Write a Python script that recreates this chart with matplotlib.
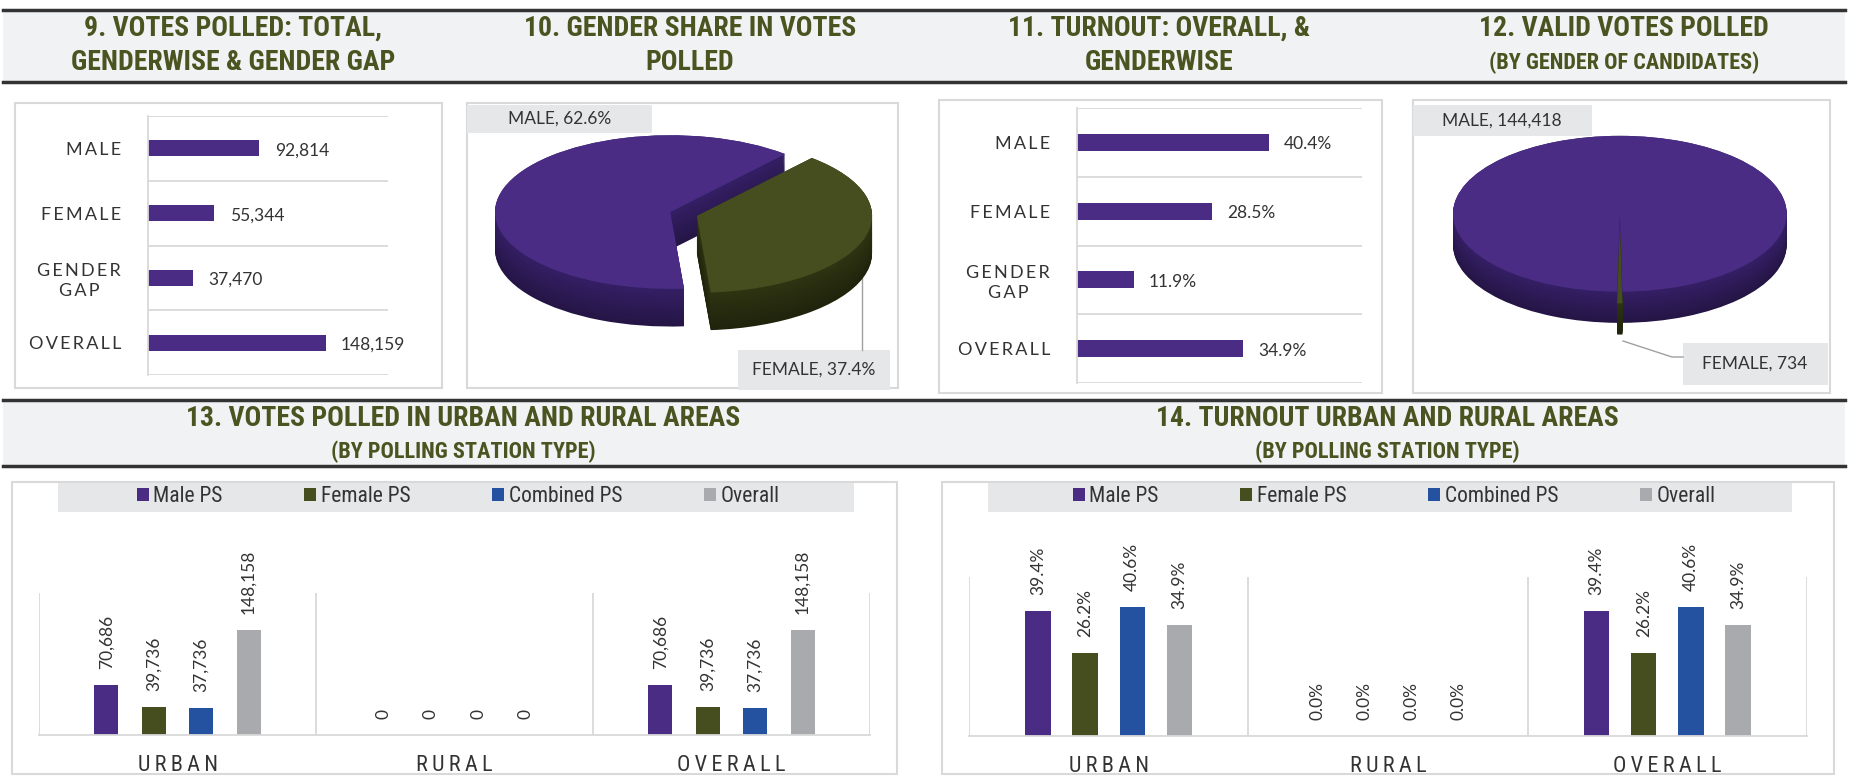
import numpy as np
import matplotlib.pyplot as plt
from matplotlib import font_manager
from matplotlib.colors import to_rgb
from matplotlib.patches import Rectangle

W, H = 1862, 776

# ---- data ----
gender_cats = ["MALE", "FEMALE", "GENDER\nGAP", "OVERALL"]
votes_polled = [92814, 55344, 37470, 148159]
turnout = [0.404, 0.285, 0.119, 0.349]

share_names = ["MALE", "FEMALE"]
share_votes = [92814, 55344]
valid_votes = [144418, 734]

areas = ["URBAN", "RURAL", "OVERALL"]
ps_types = ["Male PS", "Female PS", "Combined PS", "Overall"]
votes_male_ps = [70686, 0, 70686]
votes_female_ps = [39736, 0, 39736]
votes_comb_ps = [37736, 0, 37736]
votes_overall = [148158, 0, 148158]
turn_male_ps = [0.394, 0.0, 0.394]
turn_female_ps = [0.262, 0.0, 0.262]
turn_comb_ps = [0.406, 0.0, 0.406]
turn_overall = [0.349, 0.0, 0.349]

PURPLE = '#4a2c85'
GREEN = '#464d1f'
BLUE = '#2452a0'
GREY = '#a9aaae'
OLIVE = '#4b5320'
LINE = '#d9d9d9'
TXT = '#333333'
HUMAN = ['Lato', 'DejaVu Sans']


def narrow_font():
    # look for some condensed sans, the reference titles use one
    fonts = font_manager.fontManager.ttflist
    for name in ['Roboto Condensed', 'Liberation Sans Narrow', 'Open Sans Condensed',
                 'Noto Sans Condensed', 'DejaVu Sans Condensed']:
        if any(f.name == name for f in fonts):
            return dict(family=[name, 'DejaVu Sans'])
    for name in ['Noto Sans', 'Open Sans', 'Roboto', 'DejaVu Sans']:
        if any(f.name == name and str(f.stretch) in ('condensed', 'semi-condensed') for f in fonts):
            return dict(family=[name, 'DejaVu Sans'], stretch='condensed')
    return dict(family=['DejaVu Sans'])


NARROW = narrow_font()

fig = plt.figure(figsize=(W / 100, H / 100), dpi=100)


def add_ax(x0, y0, x1, y1, **kw):
    # pixel box given from top-left corner
    return fig.add_axes([x0 / W, 1 - y1 / H, (x1 - x0) / W, (y1 - y0) / H], **kw)


def spaced(s, gap="\u2009"):
    return "\n".join(gap.join(line) for line in s.split("\n"))


# background: header bands, panel boxes
bg = add_ax(0, 0, W, H, zorder=-10)
bg.set_xlim(0, W)
bg.set_ylim(H, 0)
bg.axis('off')

for y0, y1 in [(10, 82), (400, 466)]:
    bg.add_patch(Rectangle((3, y0), 1842, y1 - y0, facecolor='#f1f2f4', edgecolor='none'))
    bg.plot([3, 1845], [y0, y0], color=TXT, lw=2.5)
    bg.plot([3, 1845], [y1, y1], color=TXT, lw=2.5)

for x0, y0, x1, y1 in [(15, 103, 442, 388), (467, 103, 898, 388), (939, 100, 1382, 393),
                       (1413, 100, 1830, 393), (12, 482, 897, 774), (942, 482, 1834, 774)]:
    bg.add_patch(Rectangle((x0, y0), x1 - x0, y1 - y0, facecolor='white', edgecolor=LINE, lw=1.5))

for x0, x1 in [(58, 854), (988, 1792)]:
    bg.add_patch(Rectangle((x0, 483), x1 - x0, 29, facecolor='#e6e7e9', edgecolor='none'))

title_kw = dict(ha='center', va='center', color=OLIVE, weight='bold', **NARROW)
bg.text(233, 28, "9. VOTES POLLED: TOTAL,", fontsize=20, **title_kw)
bg.text(233, 63, "GENDERWISE & GENDER GAP", fontsize=20, **title_kw)
bg.text(690, 28, "10. GENDER SHARE IN VOTES", fontsize=20, **title_kw)
bg.text(690, 63, "POLLED", fontsize=20, **title_kw)
bg.text(1159, 28, "11. TURNOUT: OVERALL, &", fontsize=20, **title_kw)
bg.text(1159, 63, "GENDERWISE", fontsize=20, **title_kw)
bg.text(1624, 28, "12. VALID VOTES POLLED", fontsize=20, **title_kw)
bg.text(1624, 63, "(BY GENDER OF CANDIDATES)", fontsize=16, **title_kw)
bg.text(463, 418, "13. VOTES POLLED IN URBAN AND RURAL AREAS", fontsize=20, **title_kw)
bg.text(463, 452, "(BY POLLING STATION TYPE)", fontsize=16, **title_kw)
bg.text(1387, 418, "14. TURNOUT URBAN AND RURAL AREAS", fontsize=20, **title_kw)
bg.text(1387, 452, "(BY POLLING STATION TYPE)", fontsize=16, **title_kw)


# horizontal bar panels (9 and 11)
def hbar_panel(ax, values, xmax, fmt):
    y = np.arange(len(values))
    ax.barh(y, values, height=0.25, color=PURPLE)
    ax.set_ylim(len(values) - 0.5, -0.5)
    ax.set_xlim(0, xmax)
    for b in np.arange(-0.5, len(values)):
        ax.axhline(b, color=LINE, lw=1.3)
    for s in ['top', 'right', 'bottom']:
        ax.spines[s].set_visible(False)
    ax.spines['left'].set_color(LINE)
    ax.spines['left'].set_linewidth(1.3)
    ax.set_xticks([])
    ax.set_yticks(y, [spaced(c) for c in gender_cats])
    ax.tick_params(left=False, pad=16, labelsize=13, labelcolor=TXT)
    for t in ax.get_yticklabels():
        t.set_family(HUMAN)
        t.set_multialignment('center')
        t.set_linespacing(1.3)
    for yi, v in zip(y, values):
        ax.annotate(fmt(v), (v, yi), xytext=(11, -1.5), textcoords='offset points',
                    va='center', ha='left', fontsize=12.5, color=TXT, family=HUMAN)


ax9 = add_ax(148, 116, 388, 375)
hbar_panel(ax9, votes_polled, 200000, lambda v: f"{v:,}")
ax11 = add_ax(1077, 108, 1362, 383)
hbar_panel(ax11, turnout, 0.60, lambda v: f"{v * 100:.1f}%")


# pseudo-3D pies (10 and 12): stack of darker pies below the top face
def pie3d(ax, values, tops, sides, startangle, explode, depth, n=40):
    for i, d in enumerate(np.linspace(depth, 0, n)):
        k = 0.75 + 0.35 * i / (n - 1)
        cols = [tuple(min(c * k, 1) for c in to_rgb(s)) for s in sides]
        ax.pie(values, colors=cols, startangle=startangle, explode=explode,
               center=(0, -d), wedgeprops=dict(linewidth=0))
    ax.pie(values, colors=tops, startangle=startangle, explode=explode,
           wedgeprops=dict(linewidth=0))


ax10 = add_ax(467, 103, 898, 388)
pie3d(ax10, share_votes, [PURPLE, GREEN], ['#301c5c', '#2a2f10'], 49, [0, 0.16], 0.49)
ax10.set_aspect('auto')
ax10.set_xlim(-1.16, 1.30)
ax10.set_ylim(-2.29, 1.42)
ax10.axis('off')

ax12 = add_ax(1413, 100, 1830, 393)
pie3d(ax12, valid_votes, [PURPLE, GREEN], ['#301c5c', '#2a2f10'], -89.1, [0, 0.15], 0.40)
ax12.set_aspect('auto')
ax12.set_xlim(-1.24, 1.26)
ax12.set_ylim(-2.30, 1.46)
ax12.axis('off')

# pie labels
lab_kw = dict(ha='center', va='center', fontsize=12.5, color=TXT, family=HUMAN)
share_pct = np.array(share_votes) / sum(share_votes) * 100
bg.add_patch(Rectangle((467, 105), 185, 28, facecolor='#e6e7e9', edgecolor='none'))
bg.text(560, 119, f"{share_names[0]}, {share_pct[0]:.1f}%", **lab_kw)
bg.add_patch(Rectangle((738, 350), 152, 40, facecolor='#e6e7e9', edgecolor='none'))
bg.text(814, 370, f"{share_names[1]}, {share_pct[1]:.1f}%", **lab_kw)
bg.plot([862, 862], [278, 350], color='#a0a0a0', lw=1)

bg.add_patch(Rectangle((1413, 105), 179, 31, facecolor='#e6e7e9', edgecolor='none'))
bg.text(1502, 121, f"{share_names[0]}, {valid_votes[0]:,}", **lab_kw)
bg.add_patch(Rectangle((1683, 343), 145, 42, facecolor='#e6e7e9', edgecolor='none'))
bg.text(1755, 364, f"{share_names[1]}, {valid_votes[1]:,}", **lab_kw)
bg.plot([1623, 1672, 1683], [341, 357, 357], color='#a0a0a0', lw=1)


# vertical grouped bar panels (13 and 14)
def vbar_panel(ax, series, ymax, fmt, spacing, width, legend_xy):
    x = np.arange(len(areas))
    for i, (vals, col) in enumerate(zip(series, [PURPLE, GREEN, BLUE, GREY])):
        xs = x + (i - 1.5) * spacing
        ax.bar(xs, vals, width, color=col, label=ps_types[i])
        for xi, v in zip(xs, vals):
            ax.annotate(fmt(v), (xi, v), xytext=(0, 11.5), textcoords='offset points', rotation=90,
                        ha='center', va='bottom', fontsize=12.5, color=TXT, family=HUMAN)
    ax.set_xlim(-0.5, len(areas) - 0.5)
    ax.set_ylim(0, ymax)
    for b in np.arange(-0.5, len(areas)):
        ax.axvline(b, color=LINE, lw=1.3)
    for s in ['top', 'right', 'left']:
        ax.spines[s].set_visible(False)
    ax.spines['bottom'].set_color(LINE)
    ax.spines['bottom'].set_linewidth(1.3)
    ax.set_yticks([])
    ax.set_xticks(x, [spaced(a) for a in areas])
    ax.tick_params(bottom=False, pad=11, labelcolor=TXT)
    for t in ax.get_xticklabels():
        t.set_fontproperties(font_manager.FontProperties(size=16, **NARROW))
    fig.legend(*ax.get_legend_handles_labels(), loc='center', ncol=4, frameon=False,
               bbox_to_anchor=(legend_xy[0] / W, 1 - legend_xy[1] / H),
               prop=font_manager.FontProperties(size=15.5, **NARROW), handlelength=0.56,
               handleheight=0.56, handletextpad=0.2, columnspacing=3.8, labelcolor=TXT)


ax13 = add_ax(39, 593, 870, 735)
vbar_panel(ax13, [votes_male_ps, votes_female_ps, votes_comb_ps, votes_overall], 200000,
           lambda v: f"{v:,}", 0.171, 0.087, (458, 497))

ax14 = add_ax(969, 577, 1807, 736)
vbar_panel(ax14, [turn_male_ps, turn_female_ps, turn_comb_ps, turn_overall], 0.50,
           lambda v: f"{v * 100:.1f}%", 0.169, 0.091, (1394, 497))

plt.savefig('out.png', dpi=100)
